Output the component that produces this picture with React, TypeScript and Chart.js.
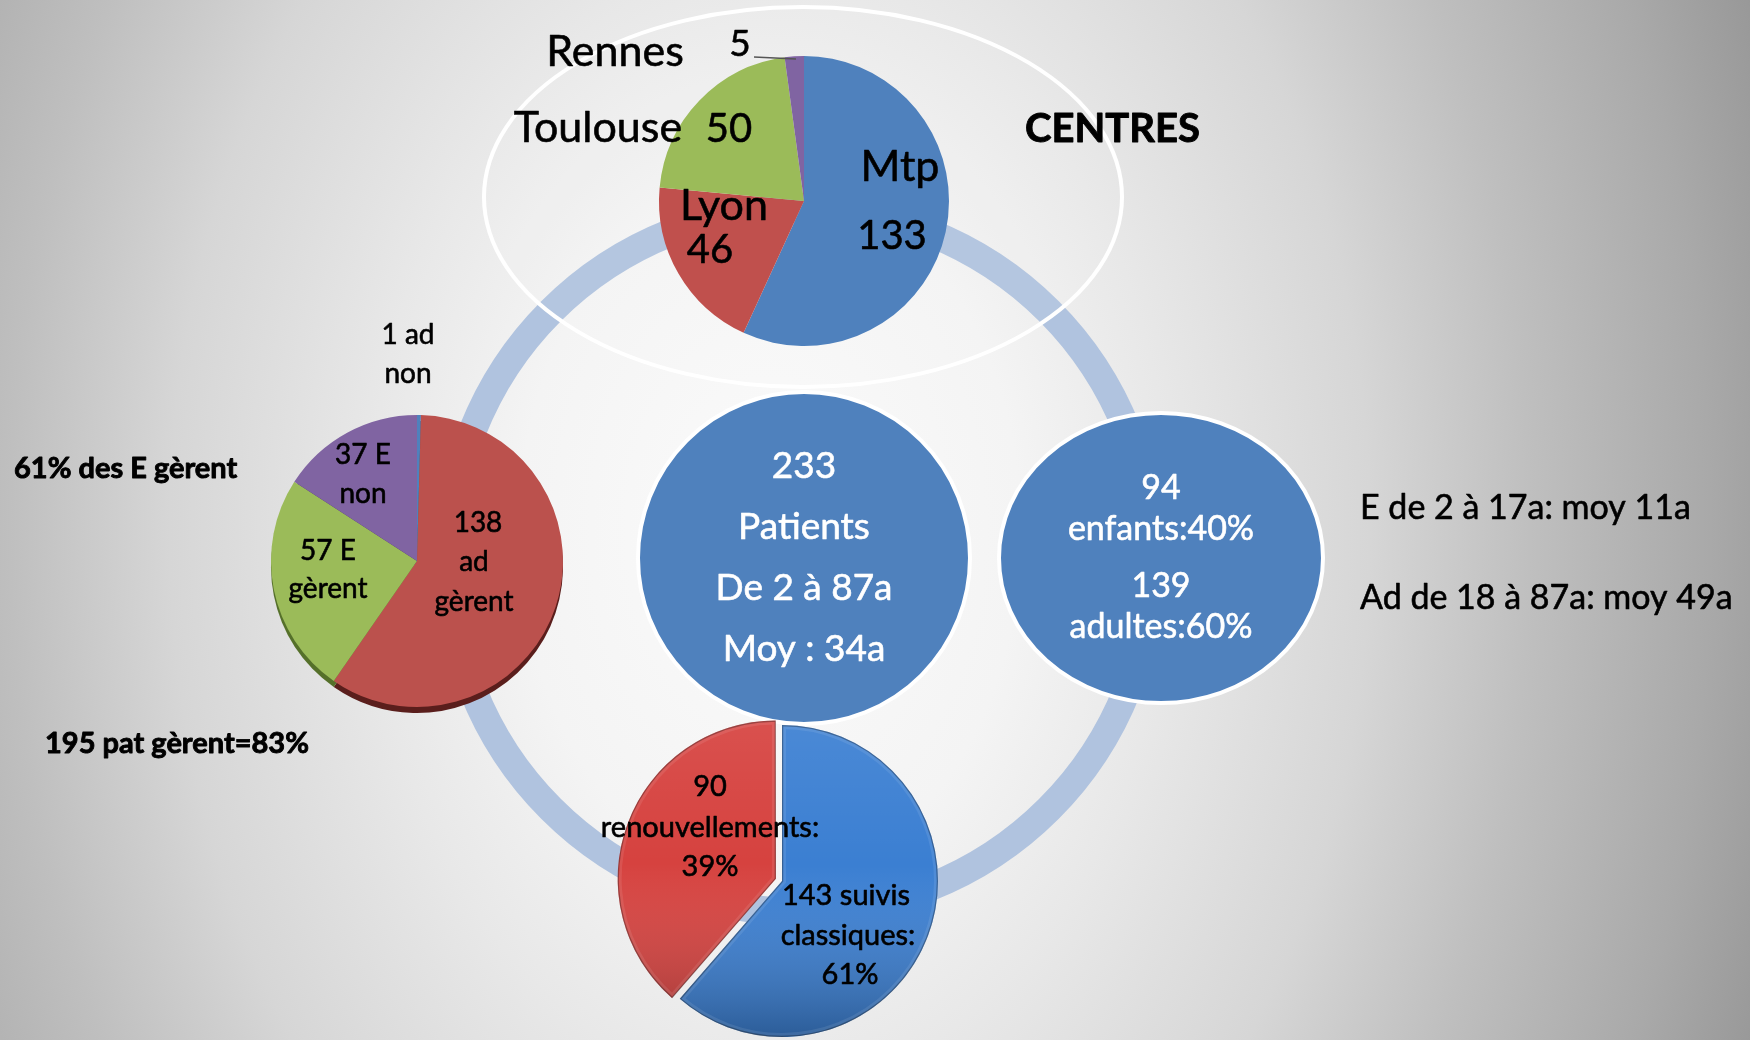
import React, { useEffect, useRef } from "react";
import { Chart, registerables } from "chart.js";

Chart.register(...registerables);

const PAGE_W = 1750;
const PAGE_H = 1040;
const FONT = "Lato, 'Open Sans', 'DejaVu Sans', sans-serif";

// ---------------- Data ----------------
const centreNames = ["Mtp", "Lyon", "Toulouse", "Rennes"];
const centreValues = [133, 46, 50, 5];

const gestionCategories = ["ad non", "ad gèrent", "E gèrent", "E non"];
const gestionValues = [1, 138, 57, 37];
const gestionLineTemplates = [
  ["{v} ad", "non"],
  ["{v}", "ad", "gèrent"],
  ["{v} E", "gèrent"],
  ["{v} E", "non"],
];

const suiviCategories = ["suivis classiques", "renouvellements"];
const suiviValues = [143, 90];
const suiviPercents = [61, 39];
const suiviLineTemplates = [
  ["{v} suivis", "classiques:", "{p}%"],
  ["{v}", "renouvellements:", "{p}%"],
];

const patientTotal = 233;
const ageRange = [2, 87];
const ageMean = 34;
const ageGroupNames = ["enfants", "adultes"];
const ageGroupCounts = [94, 139];
const ageGroupPercents = [40, 60];
const ageGroupPrefixes = ["E", "Ad"];
const ageGroupRanges = [
  [2, 17],
  [18, 87],
];
const ageGroupMeans = [11, 49];
const summaryNotes = ["61% des E gèrent", "195 pat gèrent=83%"];
const sectionTitle = "CENTRES";

// ---------------- Styles / layout ----------------
const officeColors = ["#4f81bd", "#c0504d", "#9bbb59", "#8064a2"];
const gestionColors = ["#4f81bd", "#bb514d", "#9bbb59", "#8064a2"];
const gestionShadow = ["#2d4a6e", "#5a1e1c", "#55702a", "#46345e"];
const suiviColors = ["#3b7fd2", "#d6423f"];

type PieSpec = { cx: number; cy: number; r: number; w: number; h: number };
const TOP_PIE: PieSpec = { cx: 804, cy: 201, r: 145, w: 620, h: 420 };
const LEFT_PIE: PieSpec = { cx: 417, cy: 561, r: 146, w: 400, h: 560 };
const BOTTOM_PIE: PieSpec = { cx: 782, cy: 881, r: 156, w: 440, h: 440 };

const RING = { x: 800, y: 560, r: 352, w: 28, color: "#b0c3df" };
const TOP_ELLIPSE = { x: 803, y: 197, rx: 319, ry: 190 };
const CENTRE_CIRCLE = { x: 804, y: 558, r: 166 };
const RIGHT_CIRCLE = { x: 1161, y: 558, rx: 162, ry: 145 };

const centreLabelPos = [
  { name: [900, 181], value: [892, 249] },
  { name: [724, 220], value: [710, 263] },
  { name: [598, 142], value: [729, 142] },
  { name: [615, 66], value: [740, 56] },
];
const RENNES_LEADER = [
  [754, 57],
  [796, 59],
];
const gestionLabelPos = [
  [
    [408, 344],
    [408, 383],
  ],
  [
    [478, 532],
    [474, 571],
    [474, 611],
  ],
  [
    [328, 560],
    [328, 598],
  ],
  [
    [363, 464],
    [363, 503],
  ],
];
const suiviLabelPos = [
  [
    [846, 905],
    [848, 945],
    [850, 984],
  ],
  [
    [710, 796],
    [710, 837],
    [710, 876],
  ],
];

function text(
  ctx: CanvasRenderingContext2D,
  s: string,
  x: number,
  y: number,
  size: number,
  color = "#000",
  align: CanvasTextAlign = "center",
  bold = false
) {
  ctx.font = `${bold ? "700 " : "400 "}${size}px ${FONT}`;
  ctx.fillStyle = color;
  ctx.textAlign = align;
  ctx.textBaseline = "alphabetic";
  ctx.fillText(s, x, y);
  ctx.lineWidth = bold ? 0.9 : 0.6;
  ctx.strokeStyle = color;
  ctx.lineJoin = "round";
  ctx.strokeText(s, x, y);
}

function fill(t: string, v: number, p?: number) {
  return t.replace("{v}", String(v)).replace("{p}", p === undefined ? "" : String(p));
}

const decorPlugin = {
  id: "decor",
  beforeDraw(chart: any) {
    const ctx: CanvasRenderingContext2D = chart.ctx;
    ctx.save();
    // background radial gradient (elliptical)
    const gcx = 770,
      gcy = 530,
      k = 1.4;
    ctx.save();
    ctx.translate(gcx, gcy);
    ctx.scale(1, k);
    const g = ctx.createRadialGradient(0, 0, 0, 0, 0, 1060);
    g.addColorStop(0, "#fbfbfb");
    g.addColorStop(0.236, "#f4f4f4");
    g.addColorStop(0.377, "#e8e8e8");
    g.addColorStop(0.566, "#d6d6d6");
    g.addColorStop(0.717, "#bfbfbf");
    g.addColorStop(0.887, "#a9a9a9");
    g.addColorStop(1, "#979797");
    ctx.fillStyle = g;
    ctx.fillRect(-gcx, -gcy / k, PAGE_W, PAGE_H / k + 2);
    ctx.restore();

    // ring
    ctx.beginPath();
    ctx.arc(RING.x, RING.y, RING.r, 0, Math.PI * 2);
    ctx.lineWidth = RING.w;
    ctx.strokeStyle = RING.color;
    ctx.stroke();

    // top ellipse outline
    ctx.beginPath();
    ctx.ellipse(TOP_ELLIPSE.x, TOP_ELLIPSE.y, TOP_ELLIPSE.rx, TOP_ELLIPSE.ry, 0, 0, Math.PI * 2);
    ctx.fillStyle = "rgba(255,255,255,0.06)";
    ctx.fill();
    ctx.lineWidth = 4;
    ctx.strokeStyle = "#ffffff";
    ctx.stroke();

    // centre circle
    ctx.beginPath();
    ctx.arc(CENTRE_CIRCLE.x, CENTRE_CIRCLE.y, CENTRE_CIRCLE.r, 0, Math.PI * 2);
    ctx.fillStyle = "#4f81bd";
    ctx.fill();
    ctx.lineWidth = 4;
    ctx.strokeStyle = "#ffffff";
    ctx.stroke();

    // right ellipse
    ctx.beginPath();
    ctx.ellipse(RIGHT_CIRCLE.x, RIGHT_CIRCLE.y, RIGHT_CIRCLE.rx, RIGHT_CIRCLE.ry, 0, 0, Math.PI * 2);
    ctx.fillStyle = "#4f81bd";
    ctx.fill();
    ctx.lineWidth = 4;
    ctx.strokeStyle = "#ffffff";
    ctx.stroke();

    // centre circle texts
    const centreLines = [
      `${patientTotal}`,
      "Patients",
      `De ${ageRange[0]} à ${ageRange[1]}a`,
      `Moy : ${ageMean}a`,
    ];
    const cys = [478, 539, 600, 661];
    centreLines.forEach((s, i) => text(ctx, s, CENTRE_CIRCLE.x, cys[i], 37, "#ffffff"));

    // right circle texts
    const rightLines = [
      `${ageGroupCounts[0]}`,
      `${ageGroupNames[0]}:${ageGroupPercents[0]}%`,
      `${ageGroupCounts[1]}`,
      `${ageGroupNames[1]}:${ageGroupPercents[1]}%`,
    ];
    const rys = [499, 540, 597, 638];
    rightLines.forEach((s, i) => text(ctx, s, RIGHT_CIRCLE.x, rys[i], 34, "#ffffff"));

    // right notes
    const notes = ageGroupPrefixes.map(
      (p, i) => `${p} de ${ageGroupRanges[i][0]} à ${ageGroupRanges[i][1]}a: moy ${ageGroupMeans[i]}a`
    );
    text(ctx, notes[0], 1360, 519, 34, "#000", "left");
    text(ctx, notes[1], 1360, 609, 34, "#000", "left");

    // bold notes
    text(ctx, summaryNotes[0], 14, 478, 29, "#000", "left", true);
    text(ctx, summaryNotes[1], 45, 753, 29, "#000", "left", true);
    text(ctx, sectionTitle, 1025, 142, 40, "#000", "left", true);

    ctx.restore();
  },
};

function localize(spec: PieSpec, draw: (ctx: CanvasRenderingContext2D) => void) {
  return (chart: any) => {
    const ctx: CanvasRenderingContext2D = chart.ctx;
    ctx.save();
    ctx.translate(-(spec.cx - spec.w / 2), -(spec.cy - spec.h / 2));
    draw(ctx);
    ctx.restore();
  };
}

function pieConfig(
  spec: PieSpec,
  labels: string[],
  values: number[],
  colors: string[],
  offsets: number[],
  plugins: any[]
): any {
  return {
    type: "pie",
    data: {
      labels,
      datasets: [
        {
          data: values,
          backgroundColor: colors,
          borderWidth: 0,
          offset: offsets,
        },
      ],
    },
    options: {
      responsive: false,
      maintainAspectRatio: false,
      animation: false,
      events: [],
      radius: spec.r,
      layout: { padding: 0 },
      plugins: { legend: { display: false }, tooltip: { enabled: false } },
    },
    plugins,
  };
}

export default function App() {
  const mainRef = useRef<HTMLCanvasElement>(null);
  const topRef = useRef<HTMLCanvasElement>(null);
  const leftRef = useRef<HTMLCanvasElement>(null);
  const bottomRef = useRef<HTMLCanvasElement>(null);

  useEffect(() => {
    document.body.style.margin = "0";
    document.body.style.overflow = "hidden";
    const charts: Chart[] = [];
    let alive = true;

    charts.push(
      new Chart(mainRef.current as HTMLCanvasElement, {
        type: "scatter",
        data: { datasets: [] },
        options: {
          responsive: false,
          maintainAspectRatio: false,
          animation: false,
          events: [],
          layout: { padding: 0 },
          scales: {
            x: { display: false, min: 0, max: PAGE_W },
            y: { display: false, min: 0, max: PAGE_H, reverse: true },
          },
          plugins: { legend: { display: false }, tooltip: { enabled: false } },
        },
        plugins: [decorPlugin],
      } as any)
    );

    // Top pie: centres
    const topLabels = {
      id: "topLabels",
      afterDatasetsDraw: localize(TOP_PIE, (ctx) => {
        centreNames.forEach((n, i) => {
          const p = centreLabelPos[i];
          text(ctx, n, p.name[0], p.name[1], 43);
          text(ctx, String(centreValues[i]), p.value[0], p.value[1], i === 3 ? 37 : 40);
        });
        ctx.beginPath();
        ctx.moveTo(RENNES_LEADER[0][0], RENNES_LEADER[0][1]);
        ctx.lineTo(RENNES_LEADER[1][0], RENNES_LEADER[1][1]);
        ctx.lineWidth = 1.5;
        ctx.strokeStyle = "#555555";
        ctx.stroke();
      }),
    };
    charts.push(
      new Chart(
        topRef.current as HTMLCanvasElement,
        pieConfig(TOP_PIE, centreNames, centreValues, officeColors, [0, 0, 0, 0], [topLabels])
      )
    );

    // Left pie: gestion
    const leftShadow = {
      id: "leftShadow",
      beforeDatasetsDraw(chart: any) {
        const ctx: CanvasRenderingContext2D = chart.ctx;
        const meta = chart.getDatasetMeta(0);
        ctx.save();
        meta.data.forEach((el: any, i: number) => {
          ctx.beginPath();
          ctx.moveTo(el.x, el.y + 6);
          ctx.arc(el.x, el.y + 6, el.outerRadius, el.startAngle, el.endAngle);
          ctx.closePath();
          ctx.fillStyle = gestionShadow[i];
          ctx.fill();
        });
        ctx.restore();
      },
    };
    const leftLabels = {
      id: "leftLabels",
      afterDatasetsDraw: localize(LEFT_PIE, (ctx) => {
        gestionValues.forEach((v, i) => {
          gestionLineTemplates[i].forEach((t, j) => {
            const p = gestionLabelPos[i][j];
            text(ctx, fill(t, v), p[0], p[1], 28);
          });
        });
      }),
    };
    charts.push(
      new Chart(
        leftRef.current as HTMLCanvasElement,
        pieConfig(LEFT_PIE, gestionCategories, gestionValues, gestionColors, [0, 0, 0, 0], [
          leftShadow,
          leftLabels,
        ])
      )
    );

    // Bottom pie: suivis
    const bevel = {
      id: "bevel",
      afterDatasetsDraw(chart: any) {
        const ctx: CanvasRenderingContext2D = chart.ctx;
        const meta = chart.getDatasetMeta(0);
        meta.data.forEach((el: any) => {
          const off = (el.options.offset || 0) / 4;
          const half = (el.startAngle + el.endAngle) / 2;
          const circ = el.endAngle - el.startAngle;
          const fix = 1 - Math.sin(Math.min(Math.PI, circ));
          const r = el.outerRadius + off * fix;
          const cx = el.x + Math.cos(half) * off;
          const cy = el.y + Math.sin(half) * off;
          ctx.save();
          ctx.beginPath();
          ctx.moveTo(cx, cy);
          ctx.arc(cx, cy, r, el.startAngle, el.endAngle);
          ctx.closePath();
          ctx.clip();
          const g = ctx.createLinearGradient(0, cy - r, 0, cy + r);
          g.addColorStop(0, "rgba(255,255,255,0.08)");
          g.addColorStop(0.45, "rgba(255,255,255,0)");
          g.addColorStop(1, "rgba(0,0,0,0.28)");
          ctx.fillStyle = g;
          ctx.fillRect(cx - r, cy - r, 2 * r, 2 * r);
          ctx.lineWidth = 8;
          ctx.strokeStyle = "rgba(255,255,255,0.09)";
          ctx.stroke();
          ctx.lineWidth = 2.5;
          ctx.strokeStyle = "rgba(0,0,0,0.3)";
          ctx.stroke();
          ctx.restore();
        });
      },
    };
    const bottomLabels = {
      id: "bottomLabels",
      afterDatasetsDraw: localize(BOTTOM_PIE, (ctx) => {
        suiviValues.forEach((v, i) => {
          suiviLineTemplates[i].forEach((t, j) => {
            const p = suiviLabelPos[i][j];
            text(ctx, fill(t, v, suiviPercents[i]), p[0], p[1], 29);
          });
        });
      }),
    };
    charts.push(
      new Chart(
        bottomRef.current as HTMLCanvasElement,
        pieConfig(BOTTOM_PIE, suiviCategories, suiviValues, suiviColors, [0, 26], [bevel, bottomLabels])
      )
    );

    const fonts: any = (document as any).fonts;
    if (fonts && fonts.load) {
      Promise.all([fonts.load(`700 40px Lato`), fonts.load(`400 40px Lato`)])
        .then(() => {
          if (alive) charts.forEach((c) => c.draw());
        })
        .catch(() => {});
    }

    return () => {
      alive = false;
      charts.forEach((c) => c.destroy());
    };
  }, []);

  const pos = (p: PieSpec): React.CSSProperties => ({
    position: "absolute",
    left: p.cx - p.w / 2,
    top: p.cy - p.h / 2,
    width: p.w,
    height: p.h,
  });

  return (
    <div
      style={{
        position: "absolute",
        left: 0,
        top: 0,
        width: PAGE_W,
        height: PAGE_H,
        overflow: "hidden",
        background: "#e0e0e0",
      }}
    >
      <canvas
        ref={mainRef}
        width={PAGE_W}
        height={PAGE_H}
        style={{ position: "absolute", left: 0, top: 0, width: PAGE_W, height: PAGE_H }}
      />
      <canvas ref={topRef} width={TOP_PIE.w} height={TOP_PIE.h} style={pos(TOP_PIE)} />
      <canvas ref={leftRef} width={LEFT_PIE.w} height={LEFT_PIE.h} style={pos(LEFT_PIE)} />
      <canvas ref={bottomRef} width={BOTTOM_PIE.w} height={BOTTOM_PIE.h} style={pos(BOTTOM_PIE)} />
    </div>
  );
}
